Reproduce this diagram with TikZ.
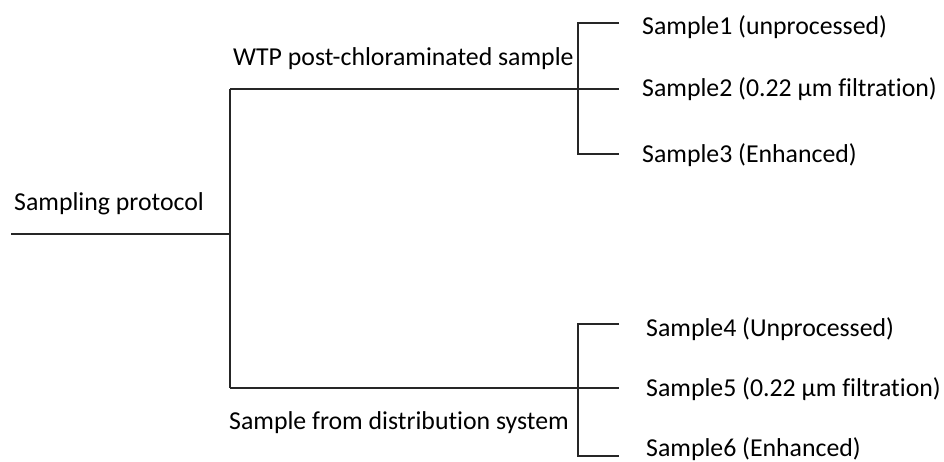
\documentclass[tikz,border=0pt]{standalone}
\usepackage{fontspec}
\setmainfont{Carlito}[Ligatures=NoCommon]
\usepackage{tikz}

\tikzset{
  leaf/.style={anchor=base west, inner sep=0pt, font=\fontsize{25.8}{30}\selectfont},
  branch/.style={line width=1.6pt, draw=black!85},
}

\begin{document}
\begin{tikzpicture}[x=1pt,y=-1pt]
      \useasboundingbox (0,0) rectangle (944,462);
      % labels
      \node[leaf] (proto) at (14,211) {Sampling protocol};
      \node[leaf] (wtp) at (233,66) {WTP post-chloraminated sample};
      \node[leaf] (dist) at (229,429) {Sample from distribution system};
      \node[leaf] (s1) at (642,35) {Sample1 (unprocessed)};
      \node[leaf] (s2) at (642,97) {Sample2 (0.22 µm filtration)};
      \node[leaf] (s3) at (642,163) {Sample3 (Enhanced)};
      \node[leaf] (s4) at (646,336) {Sample4 (Unprocessed)};
      \node[leaf] (s5) at (646,396) {Sample5 (0.22 µm filtration)};
      \node[leaf] (s6) at (646,456) {Sample6 (Enhanced)};
      % junctions
      \coordinate (root) at (11,234);
      \coordinate (fork) at (230,234);
      \coordinate (up) at (230,89);
      \coordinate (down) at (230,388);
      \coordinate (upfork) at (578,89);
      \coordinate (downfork) at (578,388);
      % tree
      \draw[branch] (root)--(fork);
      \draw[branch] (up)--(down);
      \draw[branch] (up)--(619,89);
      \draw[branch] (down)--(619,388);
      \draw[branch] (619,23)-|(upfork)|-(619,154);
      \draw[branch] (619,324)-|(downfork)|-(619,456);
    \end{tikzpicture}
\end{document}
